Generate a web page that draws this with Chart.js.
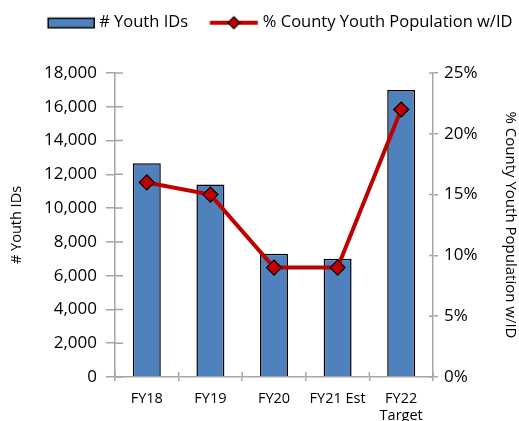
<!DOCTYPE html>
<html>
<head>
<meta charset="utf-8">
<script src="https://cdn.jsdelivr.net/npm/chart.js@4/dist/chart.umd.min.js"></script>
<style>
  html, body { margin: 0; padding: 0; background: #fff; }
  #wrap { width: 519px; height: 421px; }
</style>
</head>
<body>
<div id="wrap"><canvas id="myChart" width="519" height="421"></canvas></div>
<script>
var categories = ["FY18", "FY19", "FY20", "FY21 Est", ["FY22", "Target"]];
var youthIds = [12650, 11400, 7300, 7000, 17000];
var pctCounty = [16, 15, 9, 9, 22];
var leftTicks = [0, 2000, 4000, 6000, 8000, 10000, 12000, 14000, 16000, 18000];
var rightTicks = [0, 5, 10, 15, 20, 25];

var fontName = "'Open Sans', 'Liberation Sans', sans-serif";
var axisGrey = "#a6a6a6";
var legendFont = 16.5;
var boxW = 54;

// legend symbols, drawn into images centred on the legend box
function legendImage(kind) {
    var c = document.createElement("canvas");
    c.width = boxW * 2; c.height = 20;
    var g = c.getContext("2d");
    var right = boxW / 2 + boxW + legendFont / 2 - 5;
    if (kind === "bar") {
        g.fillStyle = "#4F81BD";
        g.fillRect(right - 46, 5.5, 46, 9.5);
        g.strokeStyle = "#000";
        g.lineWidth = 1.5;
        g.strokeRect(right - 46, 5.5, 46, 9.5);
    } else {
        g.strokeStyle = "#C00000";
        g.lineWidth = 4;
        g.beginPath(); g.moveTo(right - 48, 10); g.lineTo(right, 10); g.stroke();
        var cx = right - 24;
        g.fillStyle = "#C00000";
        g.strokeStyle = "#000";
        g.lineWidth = 1.2;
        g.beginPath();
        g.moveTo(cx, 4); g.lineTo(cx + 6, 10); g.lineTo(cx, 16); g.lineTo(cx - 6, 10); g.closePath();
        g.fill(); g.stroke();
    }
    return c;
}
var barImg = legendImage("bar");
var lineImg = legendImage("line");

// legend takes the whole band above the plot
var legendBand = {
    id: "legendBand",
    afterInit: function(chart) {
        var lg = chart.legend;
        var fit = lg.fit;
        lg.fit = function() { fit.call(this); this.height = 73; };
    },
    afterLayout: function(chart) {
        chart.legend.right += 6;
        chart.legend.top += 2;
    }
};

// tick marks that cross the axis lines
var crossTicks = {
    id: "crossTicks",
    afterDraw: function(chart) {
        var c = chart.ctx, s = chart.scales;
        c.save();
        c.strokeStyle = axisGrey;
        c.lineWidth = 1.5;
        c.beginPath();
        leftTicks.forEach(function(v) {
            var y = s.y.getPixelForValue(v);
            c.moveTo(s.y.right, y); c.lineTo(s.y.right + 8, y);
        });
        rightTicks.forEach(function(v) {
            var y = s.y1.getPixelForValue(v);
            c.moveTo(s.y1.left, y); c.lineTo(s.y1.left - 4, y);
        });
        for (var i = 0; i <= categories.length; i++) {
            var x = i < categories.length ? s.x.getPixelForValue(i) - s.x.width / categories.length / 2 : s.x.right;
            c.moveTo(x, s.x.top); c.lineTo(x, s.x.top - 5);
        }
        c.stroke();
        c.restore();
    }
};

var ctx = document.getElementById("myChart").getContext("2d");
var myChart = new Chart(ctx, {
    type: "bar",
    data: {
        labels: categories,
        datasets: [
            {
                type: "line",
                label: "% County Youth Population w/ID",
                data: pctCounty,
                yAxisID: "y1",
                borderColor: "#C00000",
                borderWidth: 4,
                backgroundColor: "#C00000",
                pointStyle: "rectRot",
                pointRadius: 7.5,
                pointBorderColor: "#000",
                pointBorderWidth: 1.2,
                pointBackgroundColor: "#C00000",
                tension: 0,
                order: 0
            },
            {
                label: "# Youth IDs",
                data: youthIds,
                yAxisID: "y",
                backgroundColor: "#4F81BD",
                borderColor: "#000",
                borderWidth: 1.5,
                barPercentage: 0.44,
                categoryPercentage: 1.0,
                order: 1
            }
        ]
    },
    plugins: [legendBand, crossTicks],
    options: {
        responsive: false,
        animation: false,
        layout: { padding: 0 },
        plugins: {
            tooltip: { enabled: false },
            legend: {
                position: "top",
                align: "end",
                labels: {
                    color: "#000",
                    font: { family: fontName, size: legendFont },
                    usePointStyle: true,
                    pointStyleWidth: boxW,
                    padding: 12.5,
                    generateLabels: function(chart) {
                        return [
                            { text: chart.data.datasets[1].label, pointStyle: barImg, datasetIndex: 1, hidden: false, lineWidth: 0, fontColor: "#000" },
                            { text: chart.data.datasets[0].label, pointStyle: lineImg, datasetIndex: 0, hidden: false, lineWidth: 0, fontColor: "#000" }
                        ];
                    }
                }
            }
        },
        scales: {
            x: {
                offset: true,
                grid: { display: true, drawOnChartArea: false, offset: true, color: axisGrey, lineWidth: 1.5, tickLength: 4 },
                border: { color: axisGrey, width: 1.5 },
                ticks: { color: "#000", font: { family: fontName, size: 14.5 }, maxRotation: 0, autoSkip: false, padding: 9 },
                afterFit: function(s) { s.height = 44; }
            },
            y: {
                position: "left",
                min: 0, max: 18000,
                afterBuildTicks: function(s) { s.ticks = leftTicks.map(function(v) { return { value: v }; }); },
                grid: { drawOnChartArea: false, color: axisGrey, lineWidth: 1.5, tickLength: 9 },
                border: { color: axisGrey, width: 1.5 },
                ticks: {
                    color: "#000", font: { family: fontName, size: 17 }, padding: 9,
                    callback: function(v) { return v.toLocaleString("en-US"); }
                },
                title: { display: true, text: "# Youth IDs", color: "#000", font: { family: fontName, size: 14.5 }, padding: { top: 8, bottom: 0 } },
                afterFit: function(s) { s.width = 115; }
            },
            y1: {
                position: "right",
                min: 0, max: 25,
                afterBuildTicks: function(s) { s.ticks = rightTicks.map(function(v) { return { value: v }; }); },
                grid: { drawOnChartArea: false, color: axisGrey, lineWidth: 1.5, tickLength: 5 },
                border: { color: axisGrey, width: 1.5 },
                ticks: {
                    color: "#000", font: { family: fontName, size: 17 }, padding: 6,
                    callback: function(v) { return v + "%"; }
                },
                title: { display: true, text: "% County Youth Population w/ID", color: "#000", font: { family: fontName, size: 15 }, padding: { top: 0, bottom: 0 } },
                afterFit: function(s) { s.width = 86; }
            }
        }
    }
});
</script>
</body>
</html>
